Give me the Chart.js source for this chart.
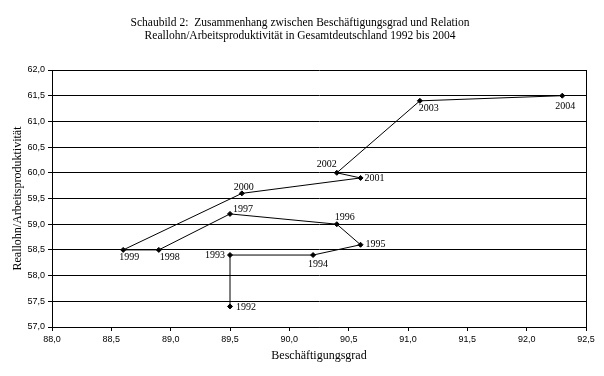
<!DOCTYPE html>
<html>
<head>
<meta charset="utf-8">
<script src="https://cdn.jsdelivr.net/npm/chart.js@4"></script>
<style>
  html, body { margin: 0; padding: 0; background: #fff; }
  #wrap { width: 604px; height: 376px; }
</style>
</head>
<body>
<div id="wrap"><canvas id="chart" width="604" height="376"></canvas></div>
<script>
// ── Schaubild 2: Beschäftigungsgrad vs Reallohn/Arbeitsproduktivität ──

const years = ['1992', '1993', '1994', '1995', '1996', '1997', '1998', '1999', '2000', '2001', '2002', '2003', '2004'];
const employment = [89.5, 89.5, 90.2, 90.6, 90.4, 89.5, 88.9, 88.6, 89.6, 90.6, 90.4, 91.1, 92.3];
const wageRatio = [57.4, 58.4, 58.4, 58.6, 59.0, 59.2, 58.5, 58.5, 59.6, 59.9, 60.0, 61.4, 61.5];

const titleLines = [
  'Schaubild 2:  Zusammenhang zwischen Beschäftigungsgrad und Relation',
  'Reallohn/Arbeitsproduktivität in Gesamtdeutschland 1992 bis 2004'
];
const xTitle = 'Beschäftigungsgrad';
const yTitle = 'Reallohn/Arbeitsproduktivität';

// label placement per year: [dx, dy, align]
const labelPos = [
  [6, 1, 'left'], [-5, 0, 'right'], [5, 9, 'center'], [5, 0, 'left'],
  [-2, -7, 'left'], [3, -5, 'left'], [1, 7, 'left'], [6, 7, 'center'],
  [2, -6, 'center'], [4, 0, 'left'], [-10, -8, 'center'], [-1, 8, 'left'],
  [3, 11, 'center']
];

const fmt = v => v.toFixed(1).replace('.', ',');

const extras = {
  id: 'extras',
  afterDraw(chart) {
    const { ctx, chartArea: a, scales } = chart;
    ctx.save();
    // right border
    ctx.strokeStyle = '#000';
    ctx.lineWidth = 1;
    ctx.beginPath();
    ctx.moveTo(Math.round(a.right) + 0.5, a.top);
    ctx.lineTo(Math.round(a.right) + 0.5, a.bottom);
    ctx.stroke();

    ctx.fillStyle = '#000';
    ctx.textBaseline = 'middle';
    // title
    ctx.font = '11.5px "Liberation Serif", "Times New Roman", serif';
    ctx.textAlign = 'center';
    ctx.fillText(titleLines[0], 300, 23);
    ctx.fillText(titleLines[1], 300, 36);
    // axis titles
    ctx.font = '12px "Liberation Serif", "Times New Roman", serif';
    ctx.fillText(xTitle, (a.left + a.right) / 2, 356);
    ctx.save();
    ctx.translate(18, (a.top + a.bottom) / 2);
    ctx.rotate(-Math.PI / 2);
    ctx.fillText(yTitle, 0, 0);
    ctx.restore();
    // point labels
    ctx.font = '10px "Liberation Serif", "Times New Roman", serif';
    years.forEach((yr, i) => {
      const px = scales.x.getPixelForValue(employment[i]);
      const py = scales.y.getPixelForValue(wageRatio[i]);
      const [dx, dy, al] = labelPos[i];
      ctx.textAlign = al;
      ctx.fillText(yr, px + dx, py + dy);
    });
    ctx.restore();
  }
};

new Chart(document.getElementById('chart'), {
  type: 'scatter',
  data: {
    datasets: [{
      data: employment.map((x, i) => ({ x, y: wageRatio[i] })),
      showLine: true,
      borderColor: '#000',
      borderWidth: 1,
      backgroundColor: '#000',
      pointStyle: 'rectRot',
      pointRadius: 2.5,
      pointHoverRadius: 2.5,
      tension: 0
    }]
  },
  options: {
    responsive: false,
    animation: false,
    events: [],
    layout: { padding: { left: 0, top: 70, right: 18, bottom: 0 } },
    plugins: { legend: { display: false }, tooltip: { enabled: false } },
    scales: {
      x: {
        type: 'linear', min: 88, max: 92.5,
        afterFit: s => { s.height = 49; },
        ticks: { stepSize: 0.5, color: '#000', padding: 3, font: { family: '"Liberation Sans", Arial, sans-serif', size: 9 }, callback: v => fmt(v) },
        grid: { drawOnChartArea: false, drawTicks: true, tickLength: 4, color: '#000' },
        border: { display: true, color: '#000', width: 1 }
      },
      y: {
        type: 'linear', min: 57, max: 62,
        afterFit: s => { s.width = 52; },
        ticks: { stepSize: 0.5, color: '#000', padding: 3, font: { family: '"Liberation Sans", Arial, sans-serif', size: 9 }, callback: v => fmt(v) },
        grid: { color: '#000', lineWidth: 1, drawTicks: true, tickLength: 4 },
        border: { display: true, color: '#000', width: 1 }
      }
    }
  },
  plugins: [extras]
});
</script>
</body>
</html>
